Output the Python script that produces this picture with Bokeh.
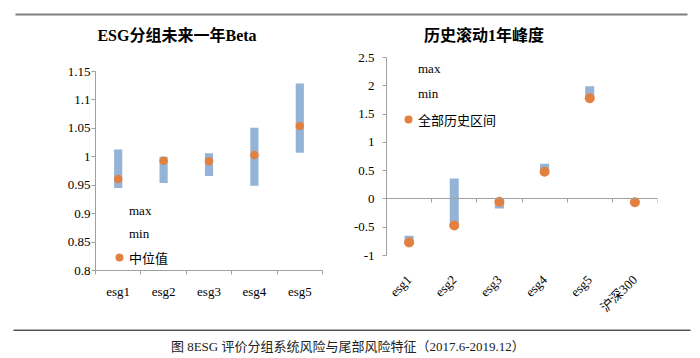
import math
from bokeh.plotting import figure
from bokeh.models import (Range1d, FixedTicker, NumeralTickFormatter, LinearAxis,
                          Legend, LegendItem, Label, ColumnDataSource)
from bokeh.layouts import column, row
from bokeh.embed import file_html
from bokeh.resources import INLINE

# ---------------- data ----------------
beta_cats = ["esg1", "esg2", "esg3", "esg4", "esg5"]
beta_max = [1.013, 1.000, 1.006, 1.051, 1.129]
beta_min = [0.945, 0.954, 0.966, 0.949, 1.007]
beta_median = [0.961, 0.993, 0.992, 1.003, 1.054]
beta_yticks = [0.8, 0.85, 0.9, 0.95, 1.0, 1.05, 1.1, 1.15]

kurt_cats = ["esg1", "esg2", "esg3", "esg4", "esg5", "沪深300"]
kurt_max = [-0.65, 0.36, -0.03, 0.62, 1.99, float("nan")]
kurt_min = [-0.80, -0.48, -0.17, 0.47, 1.78, float("nan")]
kurt_all = [-0.77, -0.47, -0.05, 0.48, 1.78, -0.06]
kurt_yticks = [-1, -0.5, 0, 0.5, 1, 1.5, 2, 2.5]

title_left = "ESG分组未来一年Beta"
title_right = "历史滚动1年峰度"
caption = "图  8ESG 评价分组系统风险与尾部风险特征（2017.6-2019.12）"

# ---------------- styles ----------------
SERIF = "'Liberation Serif', 'Noto Sans CJK SC'"
BAR_COLOR = "#95B3D7"
DOT_COLOR = "#E2803F"
AXIS_COLOR = "#A0A0A0"
TXT = "#000000"

ROW_H = 278


def style_common(p):
    p.grid.visible = False
    p.outline_line_color = None
    p.background_fill_color = "white"
    p.border_fill_color = "white"


def make_chart(cats, vmax, vmin, vmid, yticks, yrange, mid_label, borders,
               bar_w, dot_size, legend_loc, legend_spacing, ystandoff):
    n = len(cats)
    xs = list(range(n))
    src = ColumnDataSource(dict(x=xs, top=vmax, bottom=vmin, mid=vmid))
    p = figure(width=350, height=ROW_H, x_range=Range1d(-0.5, n - 0.5),
               y_range=Range1d(*yrange), output_backend="svg", toolbar_location=None,
               min_border_left=borders[0], min_border_right=borders[1],
               min_border_top=borders[2], min_border_bottom=borders[3])
    p.frame_align = False
    style_common(p)
    p.vbar(x="x", top="top", bottom="bottom", width=bar_w, source=src,
           fill_color=BAR_COLOR, line_color=None)
    r_max = p.scatter(x="x", y="top", source=src, size=1, alpha=0)
    r_min = p.scatter(x="x", y="bottom", source=src, size=1, alpha=0)
    r_mid = p.scatter(x="x", y="mid", source=src, size=dot_size,
                      fill_color=DOT_COLOR, line_color=None)

    # y axis
    ya = p.yaxis[0]
    ya.ticker = FixedTicker(ticks=yticks)
    ya.formatter = NumeralTickFormatter(format="0.[00]")
    ya.axis_line_color = AXIS_COLOR
    ya.major_tick_line_color = AXIS_COLOR
    ya.major_tick_out = 4
    ya.major_tick_in = 0
    ya.minor_tick_line_color = None
    ya.major_label_standoff = ystandoff
    ya.major_label_text_font = SERIF
    ya.major_label_text_font_size = "13px"
    ya.major_label_text_color = TXT

    legend = Legend(items=[LegendItem(label="max", renderers=[r_max]),
                           LegendItem(label="min", renderers=[r_min]),
                           LegendItem(label=mid_label, renderers=[r_mid])],
                    location=legend_loc, padding=0, margin=0, spacing=legend_spacing,
                    glyph_width=20, glyph_height=20, label_height=20, label_standoff=0,
                    border_line_color=None, background_fill_alpha=0,
                    label_text_font=SERIF, label_text_font_size="13px",
                    label_text_color=TXT)
    p.add_layout(legend, "center")
    return p, xs


# ---------------- left chart ----------------
p1, xs1 = make_chart(beta_cats, beta_max, beta_min, beta_median, beta_yticks, (0.8, 1.15),
                     "中位值", (95, 28, 26, 53), 0.18, 8.5, (14, 3), 3, 1)
xa = p1.xaxis[0]
xa.ticker = FixedTicker(ticks=xs1, minor_ticks=[i - 0.5 for i in range(len(beta_cats) + 1)])
xa.major_label_overrides = {i: c for i, c in enumerate(beta_cats)}
xa.axis_line_color = AXIS_COLOR
xa.major_tick_line_color = None
xa.major_tick_out = 0
xa.major_tick_in = 0
xa.minor_tick_line_color = AXIS_COLOR
xa.minor_tick_out = 4
xa.minor_tick_in = 0
xa.major_label_standoff = 9
xa.major_label_text_font = SERIF
xa.major_label_text_font_size = "13px"
xa.major_label_text_color = TXT

# ---------------- right chart ----------------
p2, xs2 = make_chart(kurt_cats, kurt_max, kurt_min, kurt_all, kurt_yticks, (-1, 2.5),
                     "全部历史区间", (32, 43, 12, 68), 0.2, 10, (12, 126), 5, 8)
# labels axis at the bottom
xb = p2.xaxis[0]
xb.ticker = FixedTicker(ticks=xs2)
xb.major_label_overrides = {i: c for i, c in enumerate(kurt_cats)}
xb.axis_line_color = None
xb.major_tick_line_color = None
xb.major_tick_out = 0
xb.major_tick_in = 0
xb.minor_tick_line_color = None
xb.major_label_orientation = math.pi / 4
xb.major_label_standoff = 22
xb.major_label_text_font = SERIF
xb.major_label_text_font_size = "13px"
xb.major_label_text_color = TXT
# axis line crossing at zero
x0 = LinearAxis(fixed_location=0,
                ticker=FixedTicker(ticks=xs2, minor_ticks=[i - 0.5 for i in range(len(kurt_cats) + 1)]),
                axis_line_color=AXIS_COLOR, major_tick_line_color=None,
                major_tick_out=0, major_tick_in=0,
                minor_tick_line_color=AXIS_COLOR, minor_tick_out=4, minor_tick_in=0,
                major_label_text_color=None, major_label_text_font_size="0px")
p2.add_layout(x0, "below")

# ---------------- header (rule + titles) & footer ----------------
head = figure(width=700, height=45, x_range=Range1d(0, 700), y_range=Range1d(0, 45),
              output_backend="svg", toolbar_location=None, min_border=0,
              x_axis_type=None, y_axis_type=None)
style_common(head)
head.segment(x0=[15], y0=[31], x1=[687], y1=[31], line_color="#7F7F7F", line_width=2)
for tx, tt in ((176.5, title_left), (483.5, title_right)):
    head.add_layout(Label(x=tx, y=10, text=tt, text_align="center", text_baseline="middle",
                          text_font=SERIF, text_font_size="16px", text_font_style="bold",
                          text_color=TXT))

foot = figure(width=700, height=35, x_range=Range1d(0, 700), y_range=Range1d(0, 35),
              output_backend="svg", toolbar_location=None, min_border=0,
              x_axis_type=None, y_axis_type=None)
style_common(foot)
foot.segment(x0=[13], y0=[28.3], x1=[690], y1=[28.3], line_color="#000000", line_width=1)
foot.add_layout(Label(x=349, y=12, text=caption, text_align="center", text_baseline="middle",
                      text_font=SERIF, text_font_size="13px", text_color="#222222"))

layout = column(head, row(p1, p2), foot)
open("out.html", "w").write(file_html(layout, INLINE))
